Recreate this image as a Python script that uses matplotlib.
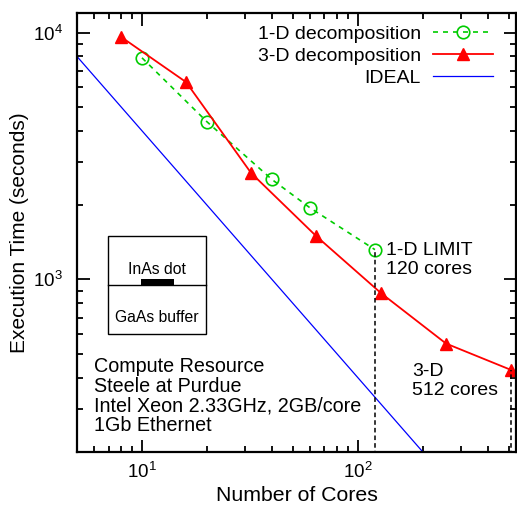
import matplotlib
matplotlib.use("Agg")
import matplotlib.pyplot as plt
from matplotlib.patches import Rectangle
import numpy as np

plt.rcParams['font.family'] = ['Liberation Sans', 'DejaVu Sans']
plt.rcParams['mathtext.fontset'] = 'custom'
plt.rcParams['mathtext.rm'] = 'Liberation Sans'

# data
cores_1d = [10, 20, 40, 60, 120]
time_1d = [7900, 4350, 2540, 1950, 1320]
cores_3d = [8, 16, 32, 64, 128, 256, 512]
time_3d = [9600, 6300, 2700, 1500, 880, 550, 430]
ideal_cores = [5, 540]
ideal_const = 40000.0
limit_1d = (120, 1320)
limit_3d = (512, 430)

W, H = 517, 511
fig = plt.figure(figsize=(W / 100, H / 100), dpi=100)
ax = fig.add_axes([77 / W, 1 - 452 / H, (516 - 77) / W, (452 - 13) / H])

ax.plot(cores_1d, time_1d, color='#00cc00', ls=(0, (3, 3)), lw=1.2,
        marker='o', ms=9, mfc='none', mec='#00cc00', mew=1.2,
        label='1-D decomposition')
ax.plot(cores_3d, time_3d, color='red', lw=1.3, marker='^', ms=9,
        mfc='red', mec='red', label='3-D decomposition')
ic = np.array(ideal_cores, dtype=float)
ax.plot(ic, ideal_const / ic, color='blue', lw=0.9, label='IDEAL')

# vertical limit markers
ax.plot([limit_1d[0], limit_1d[0]], [180, limit_1d[1]], color='black',
        lw=1.1, ls=(0, (3, 2)))
ax.plot([limit_3d[0], limit_3d[0]], [180, limit_3d[1]], color='black',
        lw=1.1, ls=(0, (3, 2)))

ax.set_xscale('log')
ax.set_yscale('log')
ax.set_xlim(5, 540)
ax.set_ylim(200, 12000)

ax.tick_params(which='both', direction='in', top=True, right=True,
               labelsize=13.5)
ax.tick_params(which='major', length=9, width=1.3)
ax.tick_params(which='minor', length=4.5, width=1.3)
ax.tick_params(axis='x', pad=7)
ax.tick_params(axis='y', pad=10)
for s in ax.spines.values():
    s.set_linewidth(1.6)

ax.set_xlabel('Number of Cores', fontsize=15.3, labelpad=3)
ax.set_ylabel('Execution Time (seconds)', fontsize=15, labelpad=3)

leg = ax.legend(loc='upper right', frameon=False, markerfirst=False,
                fontsize=14, handlelength=3.1, borderaxespad=0.0,
                bbox_to_anchor=(0.965, 0.99),
                labelspacing=0.22, handletextpad=0.6)


def fp(x, y):
    return fig.transFigure.inverted().transform((x, H - y))


fig.text(*fp(386, 260), '1-D LIMIT\n120 cores', fontsize=14,
         va='center', ha='left', linespacing=1.12)
fig.text(*fp(412, 381), '3-D\n512 cores', fontsize=14,
         va='center', ha='left', linespacing=1.12)
fig.text(*fp(94, 396),
         'Compute Resource\nSteele at Purdue\nIntel Xeon 2.33GHz, 2GB/core\n1Gb Ethernet',
         fontsize=14.2, va='center', ha='left', linespacing=1.03)

# inset sketch of the quantum dot structure
x0, y0 = fp(108, 334)
x1, y1 = fp(206, 236)
fig.patches.append(Rectangle((x0, y0), x1 - x0, y1 - y0, transform=fig.transFigure,
                             fill=False, ec='black', lw=1.0, zorder=5))
mx0, my = fp(108, 285)
mx1, _ = fp(206, 285)
fig.add_artist(plt.Line2D([mx0, mx1], [my, my], transform=fig.transFigure,
                          color='black', lw=1.0))
bx0, by0 = fp(141, 285)
bx1, by1 = fp(174, 279)
fig.patches.append(Rectangle((bx0, by0), bx1 - bx0, by1 - by0, transform=fig.transFigure,
                             fc='black', ec='black', lw=0, zorder=5))
fig.text(*fp(157, 269), 'InAs dot', fontsize=11.3, ha='center', va='center')
fig.text(*fp(157, 317), 'GaAs buffer', fontsize=11.3, ha='center', va='center')

fig.savefig('out.png', dpi=100)
